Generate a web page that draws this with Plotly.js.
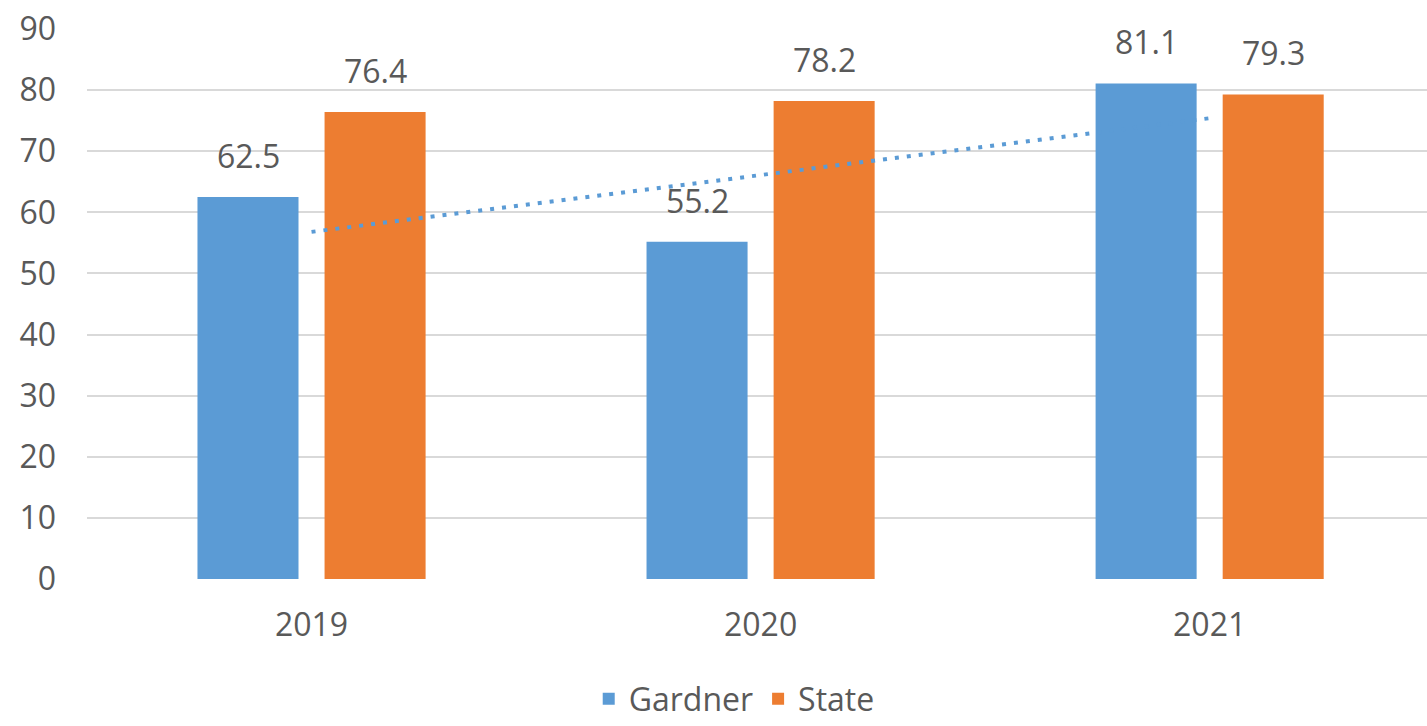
<!DOCTYPE html>
<html>
<head>
<meta charset="utf-8">
<script src="https://cdn.plot.ly/plotly-3.0.1.min.js"></script>
<style>html,body{margin:0;padding:0;background:#fff;}#chart{width:1427px;height:726px;}</style>
</head>
<body>
<div id="chart"></div>
<script>
const categories = ['2019', '2020', '2021'];
const gardner = [62.5, 55.2, 81.1];
const state = [76.4, 78.2, 79.3];
const trendCategories = ['2019', '2021'];
const trendValues = [56.8, 75.4];
const yTicks = [0, 10, 20, 30, 40, 50, 60, 70, 80, 90];

const blue = '#5B9BD5';
const orange = '#ED7D31';
const textColor = '#595959';
const fontFamily = 'Open Sans, Noto Sans, sans-serif';

const traces = [
  {type: 'bar', name: 'Gardner', x: categories, y: gardner, marker: {color: blue}, hoverinfo: 'skip'},
  {type: 'bar', name: 'State', x: categories, y: state, marker: {color: orange}, hoverinfo: 'skip'},
  {type: 'scatter', mode: 'lines', x: trendCategories, y: trendValues, showlegend: false,
   line: {color: blue, width: 4, dash: '4px,8px'}, hoverinfo: 'skip'}
];

const annotations = [];
for (let i = 0; i < categories.length; i++) {
  annotations.push({x: i, y: gardner[i], xref: 'x', yref: 'y', text: gardner[i].toFixed(1),
    showarrow: false, xshift: -63.5, yanchor: 'bottom', yshift: 18,
    font: {family: fontFamily, size: 32, color: textColor}});
  annotations.push({x: i, y: state[i], xref: 'x', yref: 'y', text: state[i].toFixed(1),
    showarrow: false, xshift: 63.5, yanchor: 'bottom', yshift: 18,
    font: {family: fontFamily, size: 32, color: textColor}});
}

const layout = {
  width: 1427, height: 726,
  margin: {l: 87, r: 0, t: 29, b: 147, pad: 0, autoexpand: false},
  paper_bgcolor: '#ffffff', plot_bgcolor: '#ffffff',
  font: {family: fontFamily, size: 32, color: textColor},
  barmode: 'group', bargap: 0.434, bargroupgap: 0.205,
  xaxis: {type: 'category', range: [-0.5, 2.484], showgrid: false, zeroline: false, showline: false,
    ticks: '', ticklabelstandoff: 24, automargin: false,
    tickfont: {family: fontFamily, size: 32, color: textColor}, fixedrange: true},
  yaxis: {range: [0, 90], tickvals: yTicks, showgrid: true, gridcolor: '#d9d9d9', gridwidth: 2,
    zeroline: false, showline: false, ticks: '', ticklabelstandoff: 30, automargin: false,
    tickfont: {family: fontFamily, size: 32, color: textColor}, fixedrange: true},
  legend: {orientation: 'h', x: 0.483, xanchor: 'center', y: -0.218, yanchor: 'middle',
    font: {family: fontFamily, size: 32, color: textColor}, itemwidth: 30, tracegroupgap: 0},
  annotations: annotations,
  showlegend: true
};

Plotly.newPlot('chart', traces, layout, {displayModeBar: false, staticPlot: true});
</script>
</body>
</html>
